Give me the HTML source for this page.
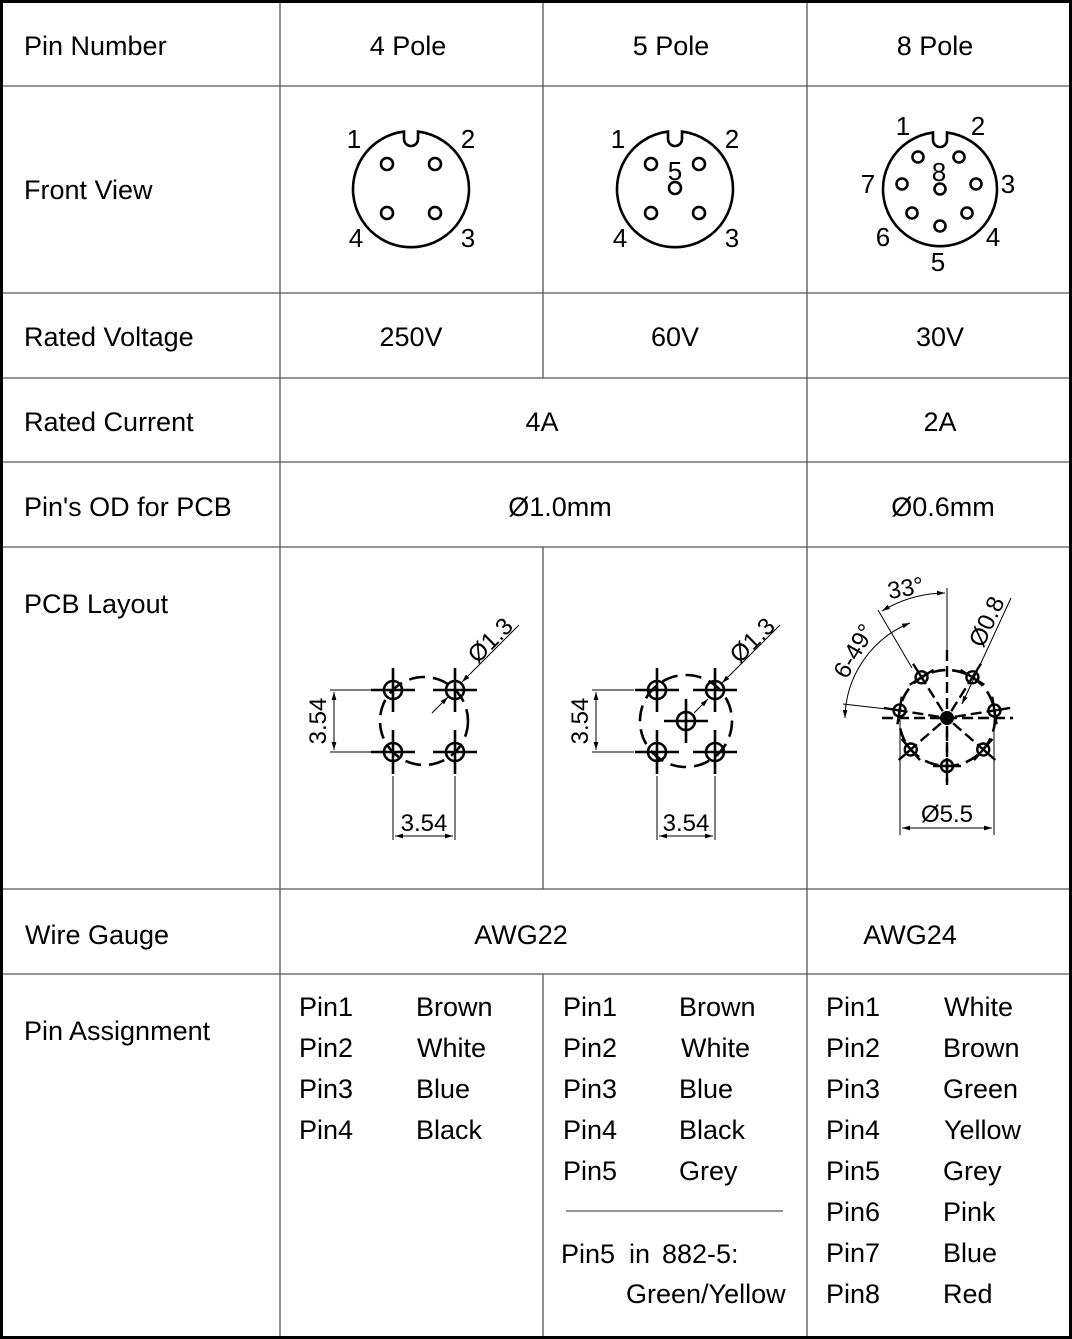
<!DOCTYPE html>
<html><head><meta charset="utf-8"><style>
html,body{margin:0;padding:0;background:#fff}
svg{display:block}
text{font-family:"Liberation Sans",Arial,sans-serif;fill:#000}
</style></head><body>
<svg width="1072" height="1339" viewBox="0 0 1072 1339" xmlns="http://www.w3.org/2000/svg">
<defs>
<marker id="ar" viewBox="0 0 10 10" refX="10" refY="5" markerWidth="8" markerHeight="8" orient="auto-start-reverse" markerUnits="userSpaceOnUse"><path d="M0,2 L10,5 L0,8 Z" fill="#000"/></marker>
<g id="pin"><circle r="9" fill="none" stroke="#000" stroke-width="2.6"/><line x1="-22" y1="0" x2="22" y2="0" stroke="#000" stroke-width="2.6"/><line x1="0" y1="-22" x2="0" y2="22" stroke="#000" stroke-width="2.6"/></g>
<g id="rad" fill="none" stroke="#000" stroke-width="2.4">
<line x1="0" y1="-8" x2="0" y2="-42" stroke-dasharray="11 5"/>
<line x1="0" y1="-42" x2="0" y2="-64"/>
<line x1="-14" y1="-48" x2="14" y2="-48"/>
<circle cx="0" cy="-48" r="6"/>
</g>
</defs>
<!-- grid -->
<g stroke="#555" stroke-width="1.3" fill="none">
<line x1="0" y1="86" x2="1072" y2="86"/>
<line x1="0" y1="293" x2="1072" y2="293"/>
<line x1="0" y1="378" x2="1072" y2="378"/>
<line x1="0" y1="462" x2="1072" y2="462"/>
<line x1="0" y1="547" x2="1072" y2="547"/>
<line x1="0" y1="889" x2="1072" y2="889"/>
<line x1="0" y1="974" x2="1072" y2="974"/>
<line x1="280" y1="0" x2="280" y2="1339"/>
<line x1="543" y1="0" x2="543" y2="378"/>
<line x1="543" y1="547" x2="543" y2="889"/>
<line x1="543" y1="974" x2="543" y2="1339"/>
<line x1="807" y1="0" x2="807" y2="1339"/>
</g>
<rect x="1.5" y="1.5" width="1069" height="1336" fill="none" stroke="#000" stroke-width="3"/>

<g font-size="27">
<text x="24" y="55">Pin Number</text>
<text x="408" y="55" text-anchor="middle">4 Pole</text>
<text x="671" y="55" text-anchor="middle">5 Pole</text>
<text x="935" y="55" text-anchor="middle">8 Pole</text>
<text x="24" y="199">Front View</text>
<text x="24" y="346">Rated Voltage</text>
<text x="411" y="346" text-anchor="middle">250V</text>
<text x="675" y="346" text-anchor="middle">60V</text>
<text x="940" y="346" text-anchor="middle">30V</text>
<text x="24" y="431">Rated Current</text>
<text x="542" y="431" text-anchor="middle">4A</text>
<text x="940" y="431" text-anchor="middle">2A</text>
<text x="24" y="516">Pin's OD for PCB</text>
<text x="560" y="516" text-anchor="middle">Ø1.0mm</text>
<text x="943" y="516" text-anchor="middle">Ø0.6mm</text>
<text x="24" y="613">PCB Layout</text>
<text x="25" y="944">Wire Gauge</text>
<text x="521" y="944" text-anchor="middle">AWG22</text>
<text x="910" y="944" text-anchor="middle">AWG24</text>
<text x="24" y="1040">Pin Assignment</text>

<text x="299" y="1016">Pin1</text><text x="416" y="1016">Brown</text>
<text x="299" y="1057">Pin2</text><text x="417" y="1057">White</text>
<text x="299" y="1098">Pin3</text><text x="416" y="1098">Blue</text>
<text x="299" y="1139">Pin4</text><text x="416" y="1139">Black</text>

<text x="563" y="1016">Pin1</text><text x="679" y="1016">Brown</text>
<text x="563" y="1057">Pin2</text><text x="681" y="1057">White</text>
<text x="563" y="1098">Pin3</text><text x="679" y="1098">Blue</text>
<text x="563" y="1139">Pin4</text><text x="679" y="1139">Black</text>
<text x="563" y="1180">Pin5</text><text x="679" y="1180">Grey</text>
<text x="561" y="1263">Pin5</text><text x="629" y="1263">in</text><text x="662" y="1263">882-5:</text>
<text x="626" y="1303">Green/Yellow</text>

<text x="826" y="1016">Pin1</text><text x="944" y="1016">White</text>
<text x="826" y="1057">Pin2</text><text x="943" y="1057">Brown</text>
<text x="826" y="1098">Pin3</text><text x="943" y="1098">Green</text>
<text x="826" y="1139">Pin4</text><text x="944" y="1139">Yellow</text>
<text x="826" y="1180">Pin5</text><text x="943" y="1180">Grey</text>
<text x="826" y="1221">Pin6</text><text x="943" y="1221">Pink</text>
<text x="826" y="1262">Pin7</text><text x="943" y="1262">Blue</text>
<text x="826" y="1303">Pin8</text><text x="943" y="1303">Red</text>
</g>
<line x1="566" y1="1211" x2="783" y2="1211" stroke="#555" stroke-width="1.3"/>

<!-- Front views -->
<g fill="none" stroke="#000" stroke-width="2.6">
<path d="M404,131.6 A58 58 0 1 0 418,131.6 L418,139 A7 7 0 0 1 404,139 Z"/>
<circle cx="387" cy="164" r="6"/><circle cx="435" cy="164" r="6"/>
<circle cx="387" cy="213" r="6"/><circle cx="435" cy="213" r="6"/>
<path d="M668,131.6 A58 58 0 1 0 682,131.6 L682,139 A7 7 0 0 1 668,139 Z"/>
<circle cx="651" cy="164" r="6"/><circle cx="699" cy="164" r="6"/>
<circle cx="651" cy="213" r="6"/><circle cx="699" cy="213" r="6"/>
<circle cx="675" cy="188" r="6"/>
<path d="M933,132.6 A57 57 0 1 0 947,132.6 L947,140 A7 7 0 0 1 933,140 Z"/>
<circle cx="918" cy="157" r="5.5"/><circle cx="959" cy="157" r="5.5"/>
<circle cx="902" cy="184" r="5.5"/><circle cx="976" cy="184" r="5.5"/>
<circle cx="912" cy="213" r="5.5"/><circle cx="967" cy="213" r="5.5"/>
<circle cx="940" cy="226" r="5.5"/><circle cx="940" cy="189" r="5.5"/>
</g>
<g font-size="26">
<text x="354" y="148" text-anchor="middle">1</text><text x="468" y="148" text-anchor="middle">2</text>
<text x="356" y="247" text-anchor="middle">4</text><text x="468" y="247" text-anchor="middle">3</text>
<text x="618" y="148" text-anchor="middle">1</text><text x="732" y="148" text-anchor="middle">2</text>
<text x="620" y="247" text-anchor="middle">4</text><text x="732" y="247" text-anchor="middle">3</text>
<text x="675" y="180" text-anchor="middle">5</text>
<text x="903" y="135" text-anchor="middle">1</text><text x="978" y="135" text-anchor="middle">2</text>
<text x="868" y="193" text-anchor="middle">7</text><text x="1008" y="193" text-anchor="middle">3</text>
<text x="883" y="246" text-anchor="middle">6</text><text x="993" y="246" text-anchor="middle">4</text>
<text x="938" y="271" text-anchor="middle">5</text><text x="939" y="181" text-anchor="middle">8</text>
</g>

<!-- PCB 4 pole -->
<g fill="none" stroke="#000">
<circle cx="424" cy="721" r="44" stroke-width="2.6" stroke-dasharray="16 8"/>
<use href="#pin" x="393" y="690"/><use href="#pin" x="455" y="690"/>
<use href="#pin" x="393" y="752"/><use href="#pin" x="455" y="752"/>
<g stroke-width="1">
<line x1="330" y1="690" x2="372" y2="690"/><line x1="330" y1="752" x2="372" y2="752"/>
<line x1="334" y1="692" x2="334" y2="750" marker-start="url(#ar)" marker-end="url(#ar)"/>
<line x1="393" y1="776" x2="393" y2="840"/><line x1="455" y1="776" x2="455" y2="840"/>
<line x1="395" y1="836" x2="453" y2="836" marker-start="url(#ar)" marker-end="url(#ar)"/>
<line x1="432" y1="713" x2="448" y2="697" marker-end="url(#ar)"/>
<line x1="519" y1="625" x2="462" y2="682" marker-end="url(#ar)"/>
</g>
</g>
<text x="424" y="831" font-size="24" text-anchor="middle">3.54</text>
<text transform="translate(326,721) rotate(-90)" font-size="24" text-anchor="middle">3.54</text>
<text transform="translate(496,646) rotate(-45)" font-size="24" text-anchor="middle">Ø1.3</text>

<!-- PCB 5 pole -->
<g fill="none" stroke="#000">
<circle cx="686" cy="721" r="46" stroke-width="2.6" stroke-dasharray="16 8"/>
<use href="#pin" x="657" y="690"/><use href="#pin" x="715" y="690"/>
<use href="#pin" x="657" y="752"/><use href="#pin" x="715" y="752"/>
<use href="#pin" x="686" y="721"/>
<g stroke-width="1">
<line x1="592" y1="690" x2="634" y2="690"/><line x1="592" y1="752" x2="634" y2="752"/>
<line x1="596" y1="692" x2="596" y2="750" marker-start="url(#ar)" marker-end="url(#ar)"/>
<line x1="657" y1="776" x2="657" y2="840"/><line x1="715" y1="776" x2="715" y2="840"/>
<line x1="659" y1="836" x2="713" y2="836" marker-start="url(#ar)" marker-end="url(#ar)"/>
<line x1="694" y1="713" x2="708" y2="699" marker-end="url(#ar)"/>
<line x1="780" y1="625" x2="722" y2="683" marker-end="url(#ar)"/>
</g>
</g>
<text x="686" y="831" font-size="24" text-anchor="middle">3.54</text>
<text transform="translate(588,721) rotate(-90)" font-size="24" text-anchor="middle">3.54</text>
<text transform="translate(758,646) rotate(-45)" font-size="24" text-anchor="middle">Ø1.3</text>

<!-- PCB 8 pole -->
<g fill="none" stroke="#000">
<circle cx="947" cy="718" r="48" stroke-width="2.6" stroke-dasharray="14 7"/>
<g stroke-width="2.4" stroke-dasharray="11 5">
<line x1="947" y1="650" x2="947" y2="785"/>
<line x1="882" y1="718" x2="1013" y2="718"/>
</g>
<g transform="translate(947,718)">
<use href="#rad" transform="rotate(-32)"/>
<use href="#rad" transform="rotate(32)"/>
<use href="#rad" transform="rotate(-81)"/>
<use href="#rad" transform="rotate(81)"/>
<use href="#rad" transform="rotate(-131)"/>
<use href="#rad" transform="rotate(131)"/>
<use href="#rad" transform="rotate(180)"/>
</g>
<g stroke-width="1">
<line x1="947" y1="588" x2="947" y2="650"/>
<line x1="878" y1="610" x2="912" y2="668"/>
<line x1="843" y1="704" x2="895" y2="710"/>
<line x1="1011" y1="598" x2="962" y2="704" marker-end="url(#ar)"/>
<path d="M945,593 A124 124 0 0 0 882,611" marker-start="url(#ar)" marker-end="url(#ar)"/>
<path d="M910,623 A104 104 0 0 0 845,718" marker-start="url(#ar)" marker-end="url(#ar)"/>
<line x1="900" y1="720" x2="900" y2="835"/><line x1="994" y1="720" x2="994" y2="835"/>
<line x1="902" y1="828" x2="992" y2="828" marker-start="url(#ar)" marker-end="url(#ar)"/>
</g>
<circle cx="947" cy="718" r="7" fill="#000" stroke="none"/>
</g>
<text x="947" y="822" font-size="24" text-anchor="middle">Ø5.5</text>
<text transform="translate(907,596) rotate(-10)" font-size="24" text-anchor="middle">33°</text>
<text transform="translate(861,655) rotate(-60)" font-size="24" text-anchor="middle">6-49°</text>
<text transform="translate(994,625) rotate(-65)" font-size="24" text-anchor="middle">Ø0.8</text>
</svg>
</body></html>
